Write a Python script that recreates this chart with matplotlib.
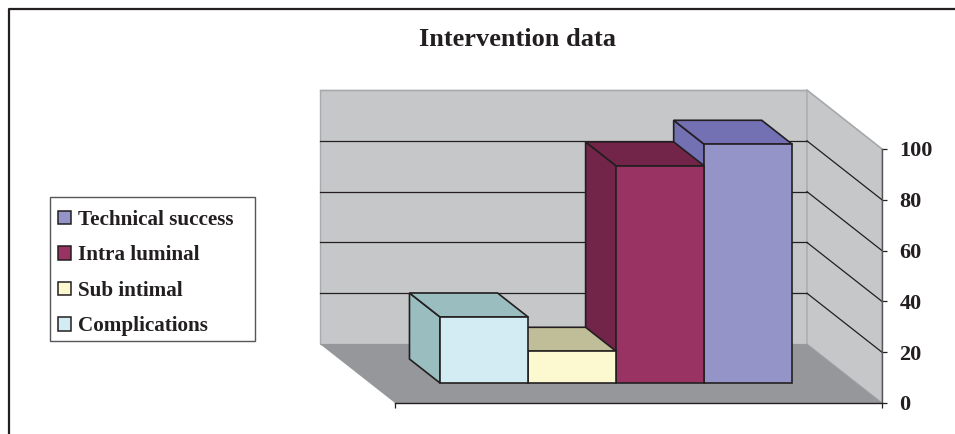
# Intervention data - oblique 3D style bars
import matplotlib
matplotlib.use("Agg")
import matplotlib.pyplot as plt
from matplotlib.patches import Polygon, Patch, Rectangle
from matplotlib.lines import Line2D

categories = ['Technical success', 'Intra luminal', 'Sub intimal', 'Complications']
values = [94, 85.5, 12.5, 26]
face_colors = ['#9594C9', '#993364', '#FCF8CF', '#D3ECF3']
top_colors = ['#7370B4', '#722449', '#BFBE98', '#9ABEBF']
y_ticks = [0, 20, 40, 60, 80, 100]

W, H = 955, 434
DARK = '#231F20'
plt.rcParams['font.family'] = ['Liberation Serif', 'DejaVu Serif']
plt.rcParams['font.weight'] = 'bold'

# oblique depth, in data units (bar width = 1, value axis 0-100)
DEPTH_X = 0.852
DEPTH_Y = 23.2
BAR_FRONT = 0.339
BAR_BACK = 0.746
X_MIN, X_MAX = -0.8, 4.73


def proj(x, v, d):
    return (x - d * DEPTH_X, v + d * DEPTH_Y)


fig = plt.figure(figsize=(W / 100, H / 100), dpi=100)
ax = fig.add_axes([395 / W, 1 - 403 / H, 487 / W, 254 / H])
ax.set_xlim(X_MIN, X_MAX)
ax.set_ylim(0, 100)
ax.patch.set_visible(False)


def face(points, color, edge=DARK, lw=1.2, z=1):
    ax.add_patch(Polygon(points, closed=True, facecolor=color, edgecolor=edge,
                         linewidth=lw, joinstyle='miter', clip_on=False, zorder=z))


# walls and floor
wall = '#C6C7C9'
face([proj(X_MIN, 0, 1), proj(X_MAX, 0, 1), proj(X_MAX, 100, 1), proj(X_MIN, 100, 1)],
     wall, edge='#A9AAAD', lw=1.0)
face([proj(X_MAX, 0, 1), proj(X_MAX, 0, 0), proj(X_MAX, 100, 0), proj(X_MAX, 100, 1)],
     wall, edge='#A9AAAD', lw=1.0)
face([proj(X_MIN, 0, 0), proj(X_MAX, 0, 0), proj(X_MAX, 0, 1), proj(X_MIN, 0, 1)],
     '#96979A', edge='none')

# gridlines on back and side wall
for t in y_ticks[1:-1]:
    ax.plot(*zip(proj(X_MIN, t, 1), proj(X_MAX, t, 1)), color=DARK, lw=0.9,
            clip_on=False, zorder=1.1)
    ax.plot(*zip(proj(X_MAX, t, 1), proj(X_MAX, t, 0)), color=DARK, lw=0.9,
            clip_on=False, zorder=1.1)
ax.plot(*zip(proj(X_MIN, 100, 1), proj(X_MAX, 100, 1)), color='#A9AAAD', lw=1.0,
        clip_on=False, zorder=1.1)
ax.plot(*zip(proj(X_MAX, 100, 1), proj(X_MAX, 100, 0)), color='#A9AAAD', lw=1.0,
        clip_on=False, zorder=1.1)

# bars, drawn right to left so the nearer sides overlap correctly
for i, (val, fc, tc) in enumerate(zip(values, face_colors, top_colors)):
    x0 = 3 - i
    x1 = x0 + 1
    z = 2 + i * 0.1
    face([proj(x0, 0, BAR_FRONT), proj(x0, val, BAR_FRONT),
          proj(x0, val, BAR_BACK), proj(x0, 0, BAR_BACK)], tc, z=z)
    face([proj(x0, val, BAR_FRONT), proj(x1, val, BAR_FRONT),
          proj(x1, val, BAR_BACK), proj(x0, val, BAR_BACK)], tc, z=z)
    face([proj(x0, 0, BAR_FRONT), proj(x1, 0, BAR_FRONT),
          proj(x1, val, BAR_FRONT), proj(x0, val, BAR_FRONT)], fc, z=z + 0.01)

# axes
ax.yaxis.tick_right()
ax.set_yticks(y_ticks)
ax.set_xticks([X_MIN, X_MAX])
ax.set_xticklabels([])
ax.tick_params(axis='y', length=3.6, width=0.9, color=DARK, labelsize=16,
               labelcolor=DARK, pad=9)
ax.tick_params(axis='x', length=3.6, width=0.9, color=DARK)
ax.spines['left'].set_visible(False)
ax.spines['top'].set_visible(False)
ax.spines['right'].set_color('#55565A')
ax.spines['right'].set_linewidth(1.0)
ax.spines['bottom'].set_color(DARK)
ax.spines['bottom'].set_linewidth(1.0)

fig.text(517 / W, 1 - 39.5 / H, 'Intervention data', ha='center', va='center',
         fontsize=19, fontweight='bold', color=DARK)

# outer frame, open on the right and bottom
fig.add_artist(Line2D([8.5 / W, 8.5 / W, 1], [0, 1 - 9 / H, 1 - 9 / H],
                      color=DARK, lw=1.6, transform=fig.transFigure))

# legend box is drawn apart so the rows can sit low in it like the original
fig.add_artist(Rectangle((49.5 / W, 1 - 340.5 / H), 205 / W, 143.5 / H, facecolor='white',
                         edgecolor='#55565A', linewidth=1.0, transform=fig.transFigure))
handles = [Patch(facecolor=fc, edgecolor=DARK, linewidth=1.1) for fc in face_colors]
leg = fig.legend(handles, categories, loc='upper left',
                 bbox_to_anchor=(49.5 / W, 1 - 202 / H), borderaxespad=0,
                 prop={'family': 'Liberation Serif', 'weight': 'bold', 'size': 15.2},
                 labelcolor=DARK, frameon=False,
                 handlelength=0.62, handleheight=0.62, handletextpad=0.35,
                 labelspacing=0.73, borderpad=0.38)
leg.set_zorder(5)

fig.savefig('out.png', dpi=100)
